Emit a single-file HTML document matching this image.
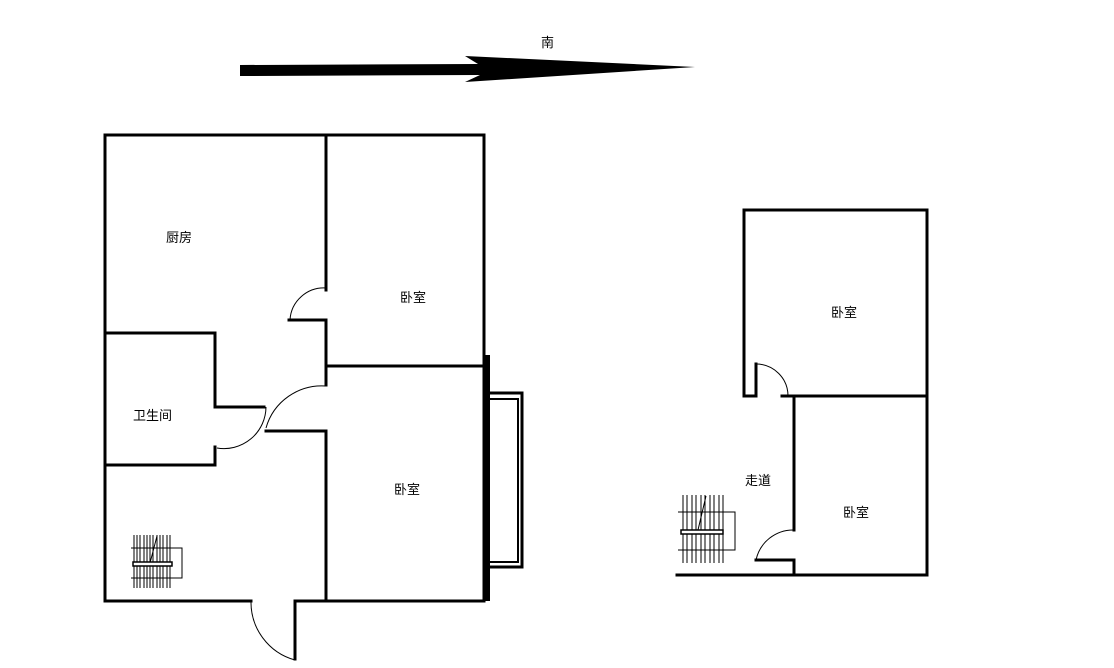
<!DOCTYPE html>
<html><head><meta charset="utf-8"><style>
html,body{margin:0;padding:0;background:#fff;}
svg{display:block;}
text{font-family:"Liberation Sans","Noto Sans CJK SC",sans-serif;font-size:13px;fill:#000;}
</style></head><body>
<svg width="1114" height="668" viewBox="0 0 1114 668" xmlns="http://www.w3.org/2000/svg">
<rect width="1114" height="668" fill="#fff"/>
<!-- arrow -->
<polygon points="240,65 478,64 465,56 695,67 465,82 480,75 240,76" fill="#000"/>
<text x="541" y="47">南</text>

<g stroke="#000" stroke-width="3" fill="none" stroke-linecap="square">
<!-- left plan outer -->
<path d="M105,135 H484 V601 H295 M251,601 H105 V135"/>
<!-- middle wall -->
<path d="M326,135 V290 M289,320 H326 V385 M266,431 H326 V601"/>
<path d="M326,366 H484"/>
<!-- bathroom -->
<path d="M105,333 H215 V407 H264 M215,447 V465 H105"/>
<!-- entrance door jamb -->
<path d="M295,601 V659"/>
<!-- right plan -->
<path d="M744,210 H927 V575 H677"/>
<path d="M744,210 V396 H756 V364"/>
<path d="M782,396 H927"/>
<path d="M794,396 V530 M756,560 H794 V575"/>
</g>
<!-- door arcs -->
<g stroke="#000" stroke-width="1" fill="none">
<path d="M290,320 A34,34 0 0 1 326,288"/>
<path d="M266,428 A58,58 0 0 1 326,386"/>
<path d="M266,407 A42,42 0 0 1 217,448"/>
<path d="M251,601 A60,60 0 0 0 295,660"/>
<path d="M756,364 A32,32 0 0 1 788,396"/>
<path d="M794,530 A38,38 0 0 0 756,560"/>
</g>
<!-- thick right wall + window -->
<rect x="483" y="355" width="7" height="246" fill="#000"/>
<g stroke="#000" fill="none">
<path d="M490,393 H522 V567 H490" stroke-width="3"/>
<path d="M490,399 H518 V562 H490" stroke-width="2"/>
</g>
<!-- stairs left -->
<g stroke="#000" stroke-width="1" fill="none">
<path d="M134,535 V588 M137,535 V588 M140,535 V588 M144,535 V588 M147,535 V588 M150,535 V588 M153,535 V588 M157,535 V588 M160,535 V588 M163,535 V588 M167,535 V588 M170,535 V588"/>
<path d="M131,548 H182 V578 H131"/>
<path d="M150,563 L157,536"/>
</g>
<rect x="133" y="562" width="39" height="4" fill="#fff" stroke="#000" stroke-width="1.5"/>
<!-- stairs right -->
<g stroke="#000" stroke-width="1" fill="none">
<path d="M683,495 V563 M687,495 V563 M692,495 V563 M696,495 V563 M701,495 V563 M705,495 V563 M710,495 V563 M714,495 V563 M719,495 V563 M723,495 V563"/>
<path d="M678,512 H735 V550 H678"/>
<path d="M698,530 L706,496"/>
</g>
<rect x="681" y="530" width="42" height="4" fill="#fff" stroke="#000" stroke-width="1.5"/>

<text x="166" y="242">厨房</text>
<text x="400" y="302">卧室</text>
<text x="133" y="420">卫生间</text>
<text x="394" y="494">卧室</text>
<text x="831" y="317">卧室</text>
<text x="745" y="485">走道</text>
<text x="843" y="517">卧室</text>
</svg>
</body></html>
